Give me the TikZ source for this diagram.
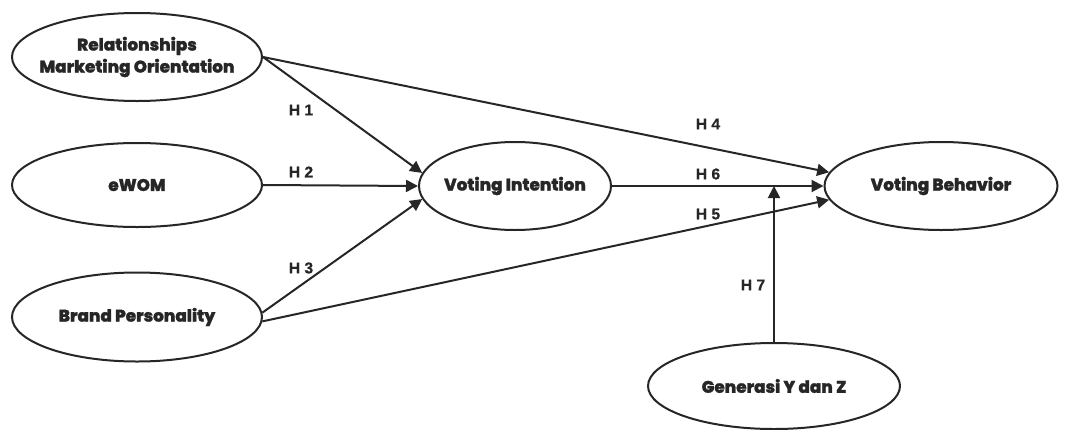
\documentclass[tikz,border=0pt]{standalone}
\usepackage{fontspec}
\setmainfont{Poppins}[BoldFont={Poppins ExtraBold}, BoldFeatures={FakeBold=1.5}]
\newfontfamily\hypfont{Liberation Sans}[BoldFeatures={FakeBold=0.8}]
\usepackage{xcolor}
\usetikzlibrary{positioning,arrows.meta,shapes.geometric}

\begin{document}
\begin{tikzpicture}[x=0.5pt, y=-0.5pt,
    construct/.style={ellipse, draw=black!85, line width=1pt, fill=white,
                      align=center, inner sep=0pt, text=black!85,
                      font=\fontsize{8.4}{11}\selectfont\bfseries},
    path/.style={-{Triangle[length=6pt, width=6pt]}, line width=1pt, draw=black!85},
    hyp/.style={font=\hypfont\fontsize{7.8}{8}\selectfont\bfseries, text=black!85,
                inner sep=1pt}
]
\useasboundingbox (0,0) rectangle (1070,429);

% --- exogenous constructs (left column) ---
\node[construct, minimum width=125pt, minimum height=44pt, inner xsep=-14pt] (rmo) at (137,57)
    {Relationships\\Marketing Orientation};
\node[construct, minimum width=125pt, minimum height=42pt] (ewom) at (137,185) {eWOM};
\node[construct, minimum width=125pt, minimum height=44.5pt] (bp) at (137,317)
    {Brand Personality};

% --- mediator, outcome and moderator ---
\node[construct, minimum width=96pt, minimum height=44pt, inner xsep=-4pt] (vi) at (515,186) {Voting Intention};
\node[construct, minimum width=116.5pt, minimum height=44pt] (vb) at (941,186) {Voting Behavior};
\node[construct, minimum width=126pt, minimum height=43pt] (gen) at (774,386) {Generasi Y dan Z};

% --- structural paths ---
\draw[path] (rmo.east) -- (vi.172);
\draw[path] (ewom.east) -- (vi.west);
\draw[path] (bp.2) -- (vi.188);
\draw[path] (rmo.east) -- (vb.173);
\draw[path] (vi.east) -- (vb.west);
\draw[path] (bp.-2) -- (vb.187);

% --- moderation onto the H6 path ---
\coordinate (mod) at (gen.north |- vi.east);
\draw[path] (gen.north) -- (mod);

% --- hypothesis labels ---
\node[hyp] (h1) at (301,110) {H 1};
\node[hyp] (h2) at (301,172) {H 2};
\node[hyp] (h3) at (301,268) {H 3};
\node[hyp] (h4) at (708,124) {H 4};
\node[hyp] (h6) at (708,174) {H 6};
\node[hyp] (h5) at (708,214) {H 5};
\node[hyp] (h7) at (753,285) {H 7};

\end{tikzpicture}
\end{document}
